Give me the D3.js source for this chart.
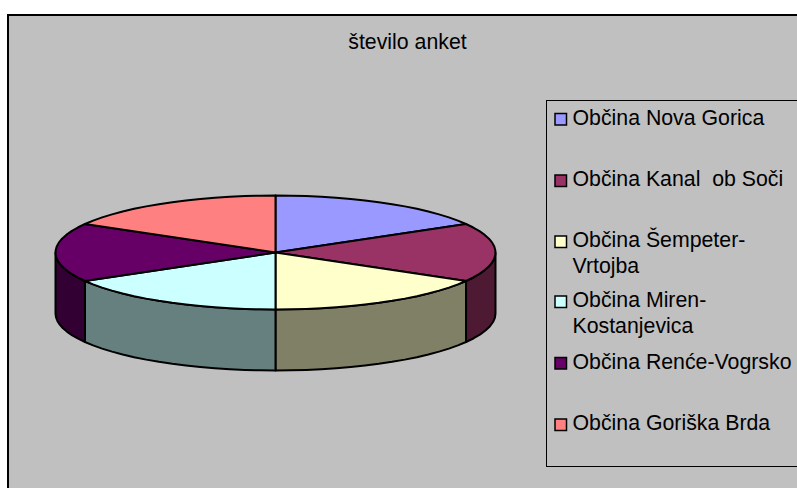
<!DOCTYPE html>
<html>
<head>
<meta charset="utf-8">
<script src="https://cdn.jsdelivr.net/npm/d3@7"></script>
<style>
html, body { margin: 0; padding: 0; background: #fff; overflow: hidden; }
svg { display: block; }
text { font-family: "Liberation Sans", Arial, sans-serif; fill: #000; }
</style>
</head>
<body>
<svg id="chart" width="797" height="488"></svg>
<script>
const title = 'število anket';
// one entry per legend row, wrapped the way the legend wraps them
const categories = [['Občina Nova Gorica'], ['Občina Kanal  ob Soči'], ['Občina Šempeter-', 'Vrtojba'], ['Občina Miren-', 'Kostanjevica'], ['Občina Renće-Vogrsko'], ['Občina Goriška Brda']];
// the six slices look the same size, the real counts are not printed
const values = [10, 10, 10, 10, 10, 10];
const topColors = ['#9999ff', '#993366', '#ffffcc', '#ccffff', '#660066', '#ff8080'];
const sideColors = ['#4d4d80', '#4d1933', '#808066', '#668080', '#330033', '#804040'];
const legendY = [124.5, 186, 247, 307, 368.5, 430];

const svg = d3.select('#chart');

// chart area
svg.append('rect').attr('x', 8).attr('y', 15).attr('width', 800).attr('height', 480)
    .attr('fill', '#c0c0c0').attr('stroke', '#000').attr('stroke-width', 2);

svg.append('text').attr('x', 407.5).attr('y', 49).attr('text-anchor', 'middle')
    .attr('font-size', '21.3px').text(title);

// flattened pie, angle 0 is at the top and goes clockwise
const cx = 275.5, cy = 252.5, rx = 220, ry = 57, depth = 61;
const px = d3.scaleLinear().domain([-1, 1]).range([cx - rx, cx + rx]);
const py = d3.scaleLinear().domain([-1, 1]).range([cy - ry, cy + ry]);
const slices = d3.pie().sort(null)(values);
const line = d3.line();

function rimPoints(a0, a1, dy) {
    const n = Math.max(1, Math.round((a1 - a0) / (Math.PI / 45)));
    return d3.range(n + 1).map(i => {
        const a = a0 + (a1 - a0) * i / n;
        return [px(Math.sin(a)), py(-Math.cos(a)) + dy];
    });
}

const pieG = svg.append('g').attr('stroke', '#000').attr('stroke-width', 2).attr('stroke-linejoin', 'round');

// side walls, only the front half is visible
slices.forEach(s => {
    const a0 = Math.max(s.startAngle, Math.PI / 2);
    const a1 = Math.min(s.endAngle, Math.PI * 1.5);
    if (a1 <= a0) return;
    const pts = rimPoints(a0, a1, 0).concat(rimPoints(a0, a1, depth).reverse());
    pieG.append('path').attr('d', line(pts) + 'Z').attr('fill', sideColors[s.index]);
});

// top faces
slices.forEach(s => {
    const pts = [[px(0), py(0)]].concat(rimPoints(s.startAngle, s.endAngle, 0));
    pieG.append('path').attr('d', line(pts) + 'Z').attr('fill', topColors[s.index]);
});

// legend
svg.append('rect').attr('x', 546.5).attr('y', 100.5).attr('width', 300).attr('height', 366)
    .attr('fill', 'none').attr('stroke', '#000').attr('stroke-width', 1);

categories.forEach((rows, i) => {
    svg.append('rect').attr('x', 555).attr('y', legendY[i] - 11).attr('width', 11.5).attr('height', 11.5)
        .attr('fill', topColors[i]).attr('stroke', '#000').attr('stroke-width', 1.5);
    rows.forEach((row, j) => {
        svg.append('text').attr('x', 572.5).attr('y', legendY[i] + j * 26).attr('font-size', '21.3px')
            .style('white-space', 'pre').text(row);
    });
});
</script>
</body>
</html>
